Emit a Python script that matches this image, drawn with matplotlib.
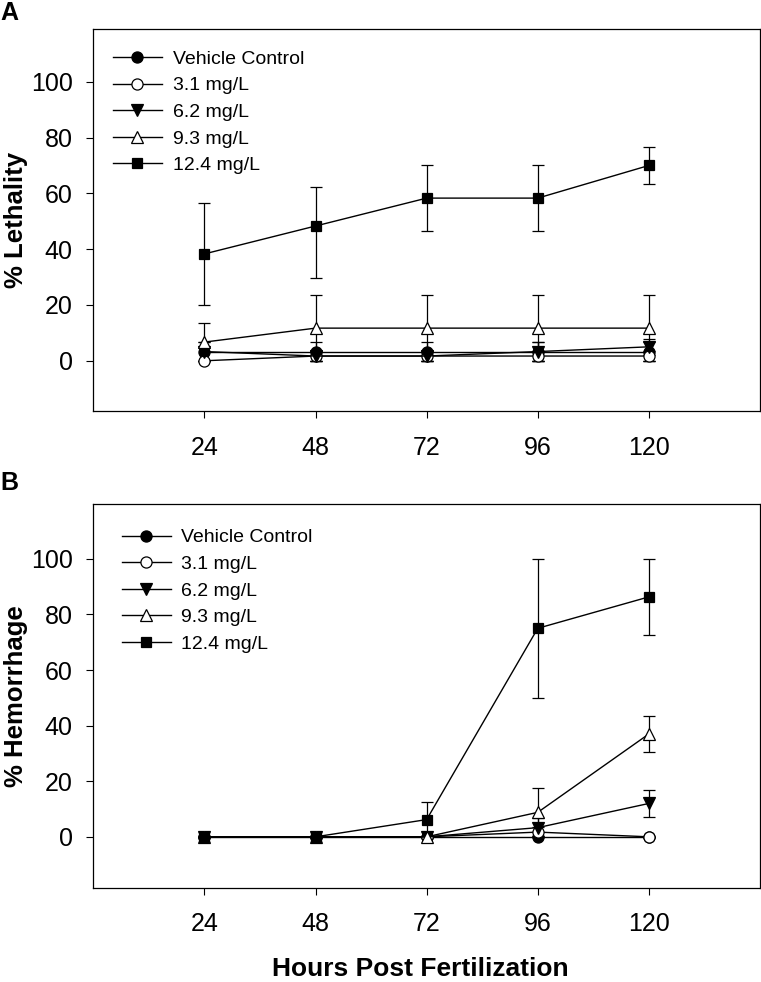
import matplotlib
matplotlib.use('Agg')
import matplotlib.pyplot as plt
import numpy as np

plt.rcParams['font.family'] = ['Liberation Sans', 'DejaVu Sans']

hours = [24, 48, 72, 96, 120]
series_names = ['Vehicle Control', '3.1 mg/L', '6.2 mg/L', '9.3 mg/L', '12.4 mg/L']

# panel A: % lethality, mean and (lower, upper) error
leth_mean = {
    'Vehicle Control': [3.3, 3.3, 3.3, 3.3, 3.3],
    '3.1 mg/L': [0.0, 1.7, 1.7, 1.7, 1.7],
    '6.2 mg/L': [3.3, 1.7, 1.7, 3.3, 5.0],
    '9.3 mg/L': [6.7, 11.7, 11.7, 11.7, 11.7],
    '12.4 mg/L': [38.3, 48.3, 58.3, 58.3, 70.0],
}
leth_err_lo = {
    'Vehicle Control': [3.3, 3.3, 3.3, 3.3, 3.3],
    '3.1 mg/L': [0.0, 1.7, 1.7, 1.7, 1.7],
    '6.2 mg/L': [3.3, 1.7, 1.7, 3.3, 2.9],
    '9.3 mg/L': [6.7, 11.7, 11.7, 11.7, 11.7],
    '12.4 mg/L': [18.3, 18.5, 11.7, 11.7, 6.7],
}
leth_err_hi = {
    'Vehicle Control': [3.3, 3.3, 3.3, 3.3, 3.3],
    '3.1 mg/L': [0.0, 1.7, 1.7, 1.7, 1.7],
    '6.2 mg/L': [3.3, 1.7, 1.7, 3.3, 2.9],
    '9.3 mg/L': [6.7, 11.7, 11.7, 11.7, 11.7],
    '12.4 mg/L': [18.3, 13.9, 11.7, 11.7, 6.7],
}

# panel B: % hemorrhage
hem_mean = {
    'Vehicle Control': [0, 0, 0, 0, 0],
    '3.1 mg/L': [0, 0, 0, 1.7, 0],
    '6.2 mg/L': [0, 0, 0, 3.3, 12.0],
    '9.3 mg/L': [0, 0, 0, 8.8, 37.0],
    '12.4 mg/L': [0, 0, 6.2, 75.0, 86.3],
}
hem_err = {
    'Vehicle Control': [0, 0, 0, 0, 0],
    '3.1 mg/L': [0, 0, 0, 1.7, 0],
    '6.2 mg/L': [0, 0, 0, 3.3, 5.0],
    '9.3 mg/L': [0, 0, 0, 8.6, 6.5],
    '12.4 mg/L': [0, 0, 6.2, 25.0, 13.7],
}

styles = {
    'Vehicle Control': dict(marker='o', mfc='black'),
    '3.1 mg/L': dict(marker='o', mfc='white'),
    '6.2 mg/L': dict(marker='v', mfc='black'),
    '9.3 mg/L': dict(marker='^', mfc='white'),
    '12.4 mg/L': dict(marker='s', mfc='black'),
}

W, H = 761, 982
fig = plt.figure(figsize=(W / 100, H / 100), dpi=100)


def make_axes(top_px, bottom_px):
    left, right = 93.3, 760
    return fig.add_axes([left / W, 1 - bottom_px / H, (right - left) / W, (bottom_px - top_px) / H])


def draw_panel(ax, means, err_lo, err_hi, ylim, ylabel, legend_anchor):
    handles = []
    for name in series_names:
        st = styles[name]
        cont = ax.errorbar(hours, means[name], yerr=[err_lo[name], err_hi[name]],
                           color='black', lw=1.0, elinewidth=0.9, capsize=4.5, capthick=0.9,
                           marker=st['marker'], mfc=st['mfc'], mec='black', mew=0.9,
                           ms=7.5 if st['marker'] == 's' else 8, label=name)
        handles.append(cont[0])
    ax.set_xlim(0, 144)
    ax.set_ylim(*ylim)
    ax.set_xticks(hours)
    ax.set_yticks([0, 20, 40, 60, 80, 100])
    ax.tick_params(direction='out', length=4.8, width=0.8, labelsize=18)
    ax.tick_params(axis='y', pad=10)
    ax.tick_params(axis='x', pad=13)
    for sp in ax.spines.values():
        sp.set_linewidth(0.9)
    ax.set_ylabel(ylabel, fontsize=18.5, fontweight='bold')
    ax.yaxis.set_label_coords(-0.098, 0.5)
    ax.legend(handles=handles, labels=series_names, loc='upper left',
              bbox_to_anchor=legend_anchor, frameon=False,
              fontsize=14, handlelength=2.52, handletextpad=0.55,
              labelspacing=0.46, borderaxespad=0, borderpad=0)


ax_a = make_axes(29.3, 411)
draw_panel(ax_a, leth_mean, leth_err_lo, leth_err_hi, (-18, 118.8), '% Lethality', (0.0295, 0.945))
ax_b = make_axes(504.3, 887.7)
draw_panel(ax_b, hem_mean, hem_err, hem_err, (-18.3, 119.6), '% Hemorrhage', (0.0426, 0.936))
ax_b.set_xlabel('Hours Post Fertilization', fontsize=19, fontweight='bold')
ax_b.xaxis.set_label_coords(0.49, -0.18)

fig.text(0, 1 - 1 / H, 'A', fontsize=18, fontweight='bold', va='top', ha='left')
fig.text(0, 1 - 471 / H, 'B', fontsize=18, fontweight='bold', va='top', ha='left')

fig.savefig('out.png', dpi=100)
